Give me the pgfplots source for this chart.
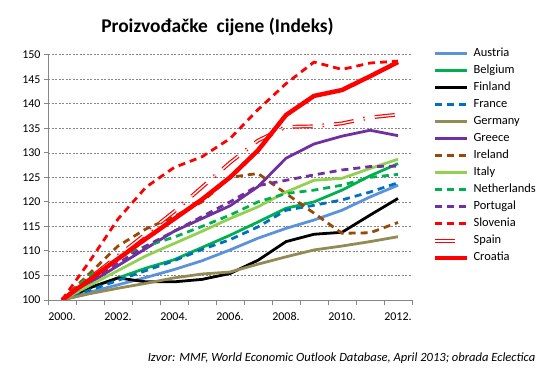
\documentclass[border=0pt]{standalone}
\usepackage{fontspec}
\setmainfont{Carlito}
\usepackage{pgfplots}
\usepackage{pgfplotstable}
\pgfplotsset{compat=1.18}

\definecolor{cAustria}{RGB}{91,146,219}
\definecolor{cBelgium}{RGB}{0,176,80}
\definecolor{cFrance}{RGB}{0,112,192}
\definecolor{cGermany}{RGB}{148,138,84}
\definecolor{cGreece}{RGB}{112,48,160}
\definecolor{cIreland}{RGB}{152,72,7}
\definecolor{cItaly}{RGB}{146,208,80}
\definecolor{cRed}{RGB}{255,0,0}
\definecolor{cAxis}{RGB}{134,134,134}

\pgfplotstableread{
year Austria Belgium Finland France Germany Greece Ireland Italy Netherlands Portugal Slovenia Spain Croatia
2000 100 100 100 100 100 100 100 100 100 100 100 100 100
2001 101.6 102.5 102.5 102.0 101.3 103.5 105.5 103.0 105.0 104.0 108.0 104.5 104.2
2002 103.1 104.5 104.5 104.0 102.4 107.0 111.0 106.0 108.5 107.5 116.5 109.0 108.4
2003 104.6 106.5 103.7 106.0 103.4 110.5 114.5 109.0 111.0 111.0 123.0 113.5 112.5
2004 106.2 108.2 103.7 108.0 104.5 114.0 117.0 111.5 112.8 114.0 127.0 118.0 116.5
2005 108.0 110.7 104.2 110.3 105.3 116.6 120.0 114.0 115.0 117.0 129.2 123.0 120.5
2006 110.2 113.2 105.4 112.3 105.7 119.2 125.0 116.6 117.3 120.0 132.9 128.0 125.0
2007 112.6 115.9 108.1 114.9 107.3 123.1 125.8 119.0 120.0 123.3 138.8 132.5 130.5
2008 114.6 118.7 111.9 118.3 108.8 128.9 121.7 122.0 121.7 124.4 144.1 135.3 137.7
2009 116.3 120.0 113.4 119.3 110.2 131.8 117.7 124.4 122.4 125.5 148.5 135.4 141.6
2010 118.3 122.4 113.8 120.4 111.0 133.4 113.6 124.8 123.4 126.5 147.0 136.0 142.8
2011 121.0 125.3 117.3 122.0 111.9 134.6 113.7 126.8 125.0 127.2 148.3 137.2 145.6
2012 123.4 127.8 120.7 123.9 112.9 133.5 115.8 128.7 125.6 127.3 148.7 137.8 148.5
}\data

\begin{document}
\begin{tikzpicture}
\useasboundingbox (0,0) rectangle (551bp,375bp);
\begin{axis}[
  at={(48bp,75bp)}, anchor=south west,
  scale only axis, width=364bp, height=245.3bp,
  xmin=1999.5, xmax=2012.5, ymin=100, ymax=150,
  axis x line*=bottom, axis y line*=left,
  axis line style={cAxis, line width=0.9pt, -},
  xtick={2000,2002,...,2012},
  xticklabels={2000.,2002.,2004.,2006.,2008.,2010.,2012.},
  minor xtick={1999.5,2000.5,...,2012.5},
  ytick={100,105,...,150},
  tick align=outside,
  major tick length=4bp,
  minor tick length=5bp,
  every major x tick/.append style={draw=none},
  every minor x tick/.append style={cAxis, line width=0.9pt},
  every major y tick/.append style={cAxis, line width=0.9pt},
  ymajorgrids,
  grid style={cAxis, line width=0.6pt, dash pattern=on 2bp off 1.5bp},
  tick label style={font=\fontsize{12}{14}\selectfont},
  /pgf/number format/assume math mode=true,
  xticklabel style={yshift=-5bp},
  legend cell align=left,
  legend style={at={(1.058,1.028)}, anchor=north west, draw=none, fill=none,
    inner sep=0pt, outer sep=0pt, row sep=5.0bp,
    font=\fontsize{12.5}{14}\selectfont,
    nodes={inner sep=0pt, text height=9bp, text depth=3bp},
    /tikz/every odd column/.append style={column sep=4bp}},
  legend image code/.code={\draw[#1] (0bp,0bp) -- (32bp,0bp);},
  every axis plot/.append style={line join=round},
]
\addplot[cAustria, line width=2.8pt] table[x=year,y=Austria]{\data};
\addlegendentry{Austria}
\addplot[cBelgium, line width=2.8pt] table[x=year,y=Belgium]{\data};
\addlegendentry{Belgium}
\addplot[black, line width=2.8pt] table[x=year,y=Finland]{\data};
\addlegendentry{Finland}
\addplot[cFrance, line width=2.8pt, dash pattern=on 7bp off 5bp] table[x=year,y=France]{\data};
\addlegendentry{France}
\addplot[cGermany, line width=2.8pt] table[x=year,y=Germany]{\data};
\addlegendentry{Germany}
\addplot[cGreece, line width=2.8pt] table[x=year,y=Greece]{\data};
\addlegendentry{Greece}
\addplot[cIreland, line width=2.8pt, dash pattern=on 7bp off 5bp] table[x=year,y=Ireland]{\data};
\addlegendentry{Ireland}
\addplot[cItaly, line width=2.8pt] table[x=year,y=Italy]{\data};
\addlegendentry{Italy}
\addplot[cBelgium, line width=2.8pt, dash pattern=on 7bp off 5bp] table[x=year,y=Netherlands]{\data};
\addlegendentry{Netherlands}
\addplot[cGreece, line width=2.8pt, dash pattern=on 7bp off 5bp] table[x=year,y=Portugal]{\data};
\addlegendentry{Portugal}
\addplot[cRed, line width=2.8pt, dash pattern=on 7bp off 5bp] table[x=year,y=Slovenia]{\data};
\addlegendentry{Slovenia}
\addplot[draw=cRed, line width=1.2pt, double=white, double distance=1.4pt, dash pattern=on 20bp off 10bp on 1.5bp off 10bp,
  legend image code/.code={\draw[draw=cRed, line width=1.2pt, double=white, double distance=1.4pt] (0bp,0bp) -- (24bp,0bp);}] table[x=year,y=Spain]{\data};
\addlegendentry{Spain}
\addplot[cRed, line width=4.5pt] table[x=year,y=Croatia]{\data};
\addlegendentry{Croatia}
\end{axis}
\node[font=\fontsize{19.5}{22}\selectfont\bfseries] at (217.5bp,348bp) {Proizvođačke\ \ cijene (Indeks)};
\node[font=\fontsize{12.6}{14}\selectfont\itshape] at (341.5bp,17bp) {Izvor: MMF, World Economic Outlook Database, April 2013; obrada Eclectica};
\end{tikzpicture}
\end{document}
